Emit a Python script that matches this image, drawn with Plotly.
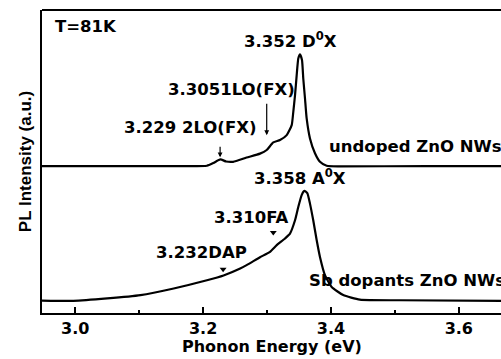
import plotly.graph_objects as go

# Data (energy in eV, intensity in arbitrary units)
undoped_E = [2.948, 3.050, 3.150, 3.206, 3.216, 3.227, 3.236, 3.247, 3.268, 3.289,
             3.2995, 3.3098, 3.3203, 3.3308, 3.3386, 3.3411, 3.3438, 3.3464, 3.3489,
             3.3516, 3.3547, 3.3567, 3.3594, 3.3620, 3.3672, 3.375, 3.3828, 3.3933,
             3.414, 3.55, 3.666]
undoped_I = [48.5, 48.5, 48.5, 48.6, 49.5, 50.7, 50.0, 49.9, 51.3, 52.6,
             53.8, 56.3, 57.1, 58.7, 62.0, 66.4, 71.9, 78.5, 84.0,
             85.4, 83.5, 77.4, 70.8, 64.2, 57.6, 52.7, 49.9, 48.6,
             48.4, 48.5, 48.5]

sb_E = [2.948, 2.997, 3.050, 3.102, 3.154, 3.206, 3.232, 3.258, 3.268, 3.289,
        3.3047, 3.3152, 3.3281, 3.3359, 3.3438, 3.3489, 3.3542, 3.3583, 3.363,
        3.3672, 3.3723, 3.3777, 3.3828, 3.3906, 3.4011, 3.4192, 3.4453, 3.508, 3.666]
sb_I = [4.1, 4.0, 4.8, 5.9, 8.1, 10.8, 12.4, 14.7, 15.8, 18.4,
        20.2, 22.4, 24.6, 26.2, 30.6, 35.0, 38.9, 40.3, 39.6,
        36.1, 30.6, 24.0, 18.5, 12.5, 8.6, 5.9, 4.4, 4.2, 4.0]

x_ticks = [3.0, 3.2, 3.4, 3.6]
x_tick_labels = ["3.0", "3.2", "3.4", "3.6"]

# Labels: text, x, y, xanchor
labels = [
    ("T=81K", 2.9656, 94.4, "left"),
    ("3.352 D<sup>0</sup>X", 3.336, 90.1, "center"),
    ("3.3051LO(FX)", 3.2445, 73.6, "center"),
    ("3.229 2LO(FX)", 3.1797, 61.3, "center"),
    ("undoped ZnO NWs", 3.394, 54.8, "left"),
    ("3.358 A<sup>0</sup>X", 3.3516, 44.8, "center"),
    ("3.310FA", 3.2758, 31.6, "center"),
    ("3.232DAP", 3.1977, 20.05, "center"),
    ("Sb dopants ZnO NWs", 3.3625, 10.8, "left"),
]
# Arrows: tip x, tip y, length in px
arrows = [(3.2995, 58.7, 33), (3.2266, 51.4, 12)]
# Small triangle markers
tri_E = [3.3098, 3.2313]
tri_I = [26.6, 14.4]

FONT = "DejaVu Sans, sans-serif"
FONT_Y = "Liberation Sans, Arial, sans-serif"

fig = go.Figure()
fig.add_trace(go.Scatter(x=undoped_E, y=undoped_I, mode="lines",
                         line=dict(color="black", width=2.2, shape="spline", smoothing=0.5),
                         showlegend=False, hoverinfo="skip"))
fig.add_trace(go.Scatter(x=sb_E, y=sb_I, mode="lines",
                         line=dict(color="black", width=2.2, shape="spline", smoothing=0.5),
                         showlegend=False, hoverinfo="skip"))
fig.add_trace(go.Scatter(x=tri_E, y=tri_I, mode="markers",
                         marker=dict(symbol="triangle-down", size=6, color="black"),
                         showlegend=False, hoverinfo="skip", cliponaxis=False))

for text, x, y, xa in labels:
    fig.add_annotation(x=x, y=y, text=text, showarrow=False, xanchor=xa, yanchor="middle",
                       font=dict(family=FONT, size=16.5, color="black", weight="bold"))

for x, y, ln in arrows:
    fig.add_annotation(x=x, y=y, ax=0, ay=-ln, text="", showarrow=True,
                       arrowhead=2, arrowsize=0.8, arrowwidth=1.2, arrowcolor="black")

# X axis title placed as paper annotation for precise position
fig.add_annotation(xref="paper", yref="paper", x=0.5, y=-0.11, text="Phonon Energy (eV)",
                   showarrow=False, xanchor="center", yanchor="middle",
                   font=dict(family=FONT, size=16, color="black", weight="bold"))

# Top frame line
fig.add_shape(type="line", xref="paper", yref="paper", x0=0, x1=1.02, y0=1, y1=1,
              line=dict(color="black", width=2.2))

fig.update_layout(
    width=501, height=359,
    margin=dict(l=42, r=0, t=10, b=46),
    plot_bgcolor="white", paper_bgcolor="white",
    font=dict(family=FONT, color="black"),
)
fig.update_xaxes(
    range=[2.948, 3.666], showline=True, linecolor="black", linewidth=2.2,
    ticks="inside", ticklen=6, tickwidth=2, tickcolor="black",
    tickvals=x_ticks, ticktext=x_tick_labels, showgrid=False, zeroline=False,
    tickfont=dict(family=FONT, size=16, color="black", weight="bold"),
    minor=dict(ticks="inside", ticklen=3, tickwidth=2, tickcolor="black", dtick=0.1, tick0=3.1),
)
fig.update_yaxes(
    range=[0, 100], showline=True, linecolor="black", linewidth=2.2,
    showticklabels=False, ticks="", showgrid=False, zeroline=False,
    title=dict(text="PL Intensity (a.u.)", standoff=4,
               font=dict(family=FONT_Y, size=17, color="black", weight="bold")),
)

fig.write_html("out.html")
